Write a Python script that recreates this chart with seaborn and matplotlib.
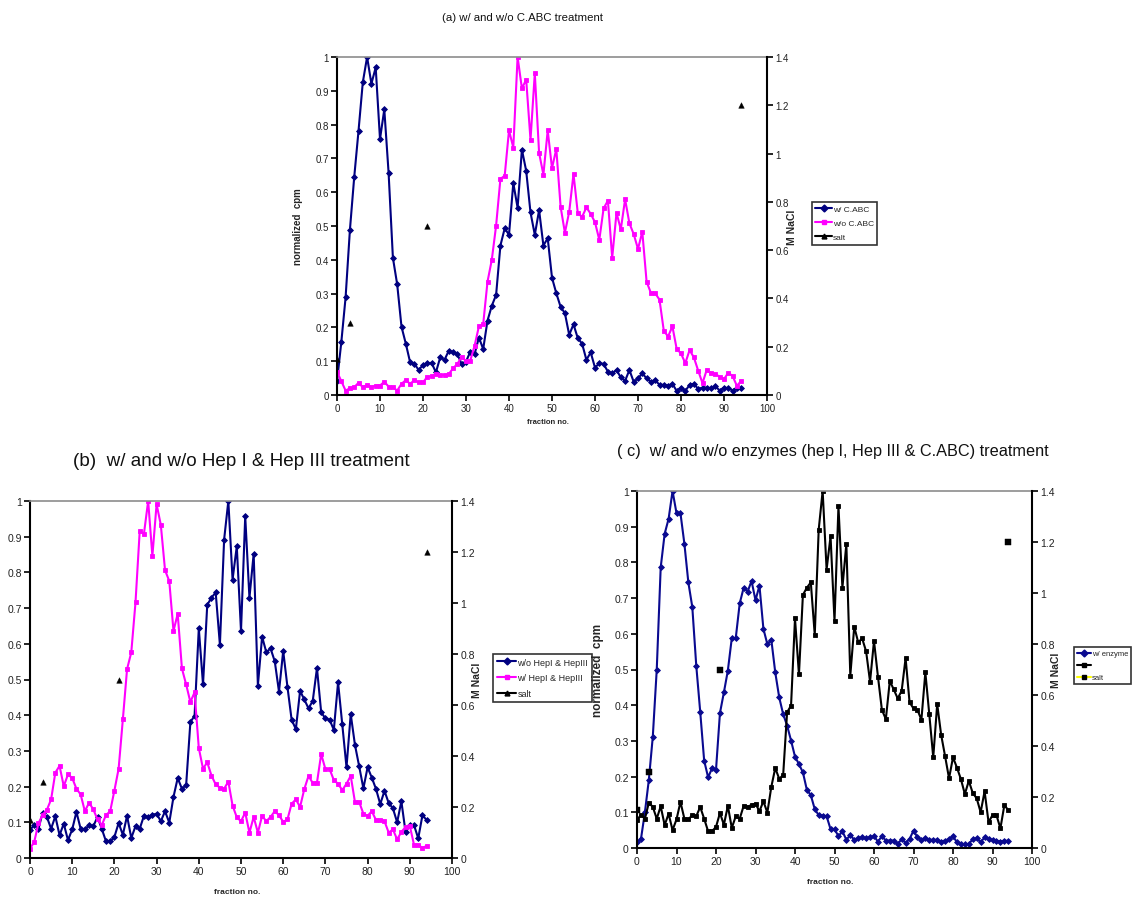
import numpy as np
import pandas as pd
import matplotlib
matplotlib.use("Agg")
import matplotlib.pyplot as plt
import seaborn as sns
from matplotlib.lines import Line2D

# ---------------- data ----------------
fractions = list(range(95))

a_with_cabc = [0.04, 0.156, 0.289, 0.488, 0.644, 0.781, 0.925, 1.0, 0.921, 0.969,
               0.757, 0.845, 0.657, 0.406, 0.327, 0.202, 0.152, 0.097, 0.092, 0.074,
               0.089, 0.094, 0.095, 0.067, 0.111, 0.104, 0.131, 0.126, 0.120, 0.092,
               0.099, 0.128, 0.121, 0.170, 0.136, 0.220, 0.264, 0.296, 0.442, 0.493,
               0.474, 0.627, 0.554, 0.726, 0.663, 0.540, 0.474, 0.547, 0.442, 0.464,
               0.347, 0.301, 0.261, 0.242, 0.178, 0.209, 0.168, 0.152, 0.104, 0.126,
               0.081, 0.094, 0.092, 0.069, 0.064, 0.074, 0.052, 0.042, 0.074, 0.039,
               0.049, 0.064, 0.049, 0.039, 0.044, 0.030, 0.030, 0.028, 0.033, 0.012,
               0.022, 0.012, 0.030, 0.033, 0.018, 0.022, 0.022, 0.020, 0.026, 0.013,
               0.022, 0.020, 0.013, 0.022, 0.020]

a_without_cabc = [0.069, 0.041, 0.013, 0.020, 0.023, 0.036, 0.023, 0.030, 0.023, 0.028,
                  0.028, 0.039, 0.025, 0.023, 0.013, 0.033, 0.044, 0.033, 0.044, 0.037,
                  0.037, 0.054, 0.055, 0.062, 0.059, 0.059, 0.062, 0.079, 0.092, 0.113,
                  0.100, 0.102, 0.146, 0.203, 0.210, 0.335, 0.400, 0.501, 0.639, 0.649,
                  0.783, 0.732, 1.0, 0.907, 0.933, 0.755, 0.952, 0.716, 0.652, 0.783,
                  0.671, 0.728, 0.557, 0.480, 0.542, 0.654, 0.538, 0.527, 0.555, 0.536,
                  0.511, 0.459, 0.552, 0.575, 0.406, 0.539, 0.490, 0.579, 0.508, 0.476,
                  0.432, 0.483, 0.335, 0.302, 0.301, 0.282, 0.190, 0.173, 0.203, 0.136,
                  0.123, 0.094, 0.133, 0.111, 0.072, 0.035, 0.075, 0.064, 0.062, 0.054,
                  0.047, 0.066, 0.056, 0.027, 0.042]

b_without_hep = [0.078, 0.093, 0.082, 0.127, 0.115, 0.082, 0.117, 0.064, 0.096, 0.050,
                 0.080, 0.129, 0.082, 0.080, 0.092, 0.089, 0.115, 0.082, 0.047, 0.047,
                 0.059, 0.098, 0.065, 0.118, 0.056, 0.089, 0.082, 0.118, 0.115, 0.121,
                 0.124, 0.103, 0.131, 0.099, 0.171, 0.224, 0.194, 0.204, 0.380, 0.399,
                 0.643, 0.486, 0.709, 0.729, 0.744, 0.597, 0.892, 1.0, 0.780, 0.873,
                 0.636, 0.957, 0.729, 0.852, 0.483, 0.620, 0.576, 0.587, 0.551, 0.466,
                 0.580, 0.480, 0.387, 0.361, 0.468, 0.444, 0.419, 0.440, 0.532, 0.408,
                 0.391, 0.387, 0.359, 0.492, 0.374, 0.254, 0.403, 0.317, 0.257, 0.195,
                 0.254, 0.225, 0.193, 0.151, 0.188, 0.154, 0.139, 0.100, 0.159, 0.072,
                 0.092, 0.092, 0.055, 0.120, 0.106]

b_with_hep = [0.026, 0.045, 0.097, 0.121, 0.135, 0.164, 0.239, 0.258, 0.201, 0.234,
              0.224, 0.194, 0.178, 0.131, 0.155, 0.136, 0.108, 0.092, 0.120, 0.131,
              0.189, 0.250, 0.388, 0.529, 0.576, 0.716, 0.916, 0.908, 1.0, 0.846,
              0.991, 0.933, 0.806, 0.776, 0.636, 0.684, 0.531, 0.486, 0.437, 0.464,
              0.308, 0.250, 0.268, 0.231, 0.206, 0.197, 0.194, 0.214, 0.147, 0.114,
              0.103, 0.127, 0.071, 0.115, 0.071, 0.118, 0.103, 0.115, 0.131, 0.120,
              0.101, 0.108, 0.152, 0.164, 0.143, 0.193, 0.230, 0.210, 0.211, 0.291,
              0.249, 0.249, 0.218, 0.208, 0.190, 0.208, 0.230, 0.157, 0.157, 0.124,
              0.118, 0.131, 0.106, 0.106, 0.103, 0.071, 0.080, 0.052, 0.073, 0.087,
              0.090, 0.037, 0.037, 0.028, 0.034]

c_with_enzyme = [0.016, 0.025, 0.100, 0.191, 0.312, 0.500, 0.786, 0.880, 0.922, 1.0,
                 0.938, 0.938, 0.852, 0.744, 0.675, 0.511, 0.382, 0.245, 0.198, 0.223,
                 0.219, 0.378, 0.436, 0.497, 0.588, 0.588, 0.685, 0.729, 0.718, 0.748,
                 0.694, 0.735, 0.614, 0.571, 0.584, 0.492, 0.422, 0.375, 0.343, 0.301,
                 0.256, 0.235, 0.212, 0.163, 0.148, 0.109, 0.092, 0.091, 0.089, 0.053,
                 0.053, 0.033, 0.047, 0.023, 0.036, 0.023, 0.027, 0.030, 0.027, 0.030,
                 0.033, 0.018, 0.033, 0.021, 0.021, 0.021, 0.011, 0.025, 0.014, 0.025,
                 0.049, 0.030, 0.023, 0.028, 0.023, 0.023, 0.023, 0.018, 0.021, 0.025,
                 0.033, 0.016, 0.011, 0.011, 0.011, 0.025, 0.027, 0.016, 0.030, 0.025,
                 0.023, 0.021, 0.018, 0.021, 0.019]

c_without_enzyme = b_without_hep

salt_fraction = [0, 3, 21, 94]
salt_nacl = [0.15, 0.3, 0.7, 1.2]

x_ticks = list(range(0, 101, 10))
y_ticks = [round(0.1 * i, 1) for i in range(11)]
y_tick_labels = ["0", "0.1", "0.2", "0.3", "0.4", "0.5", "0.6", "0.7", "0.8", "0.9", "1"]
y2_ticks = [0, 0.2, 0.4, 0.6, 0.8, 1.0, 1.2, 1.4]
y2_tick_labels = ["0", "0.2", "0.4", "0.6", "0.8", "1", "1.2", "1.4"]

# ---------------- style ----------------
sns.set_style("white")
plt.rcParams["font.family"] = ["Liberation Sans", "DejaVu Sans"]

NAVY = "#000080"
BLUE = "#0a0a90"
MAGENTA = "#ff00ff"
BLACK = "#000000"
YELLOW = "#ffff00"

fig = plt.figure(figsize=(11.43, 9.03), dpi=100)
W, H = 1143.0, 903.0


def rect(l, r, t, b):
    return [l / W, 1 - b / H, (r - l) / W, (b - t) / H]


def make_panel(box, series, salt_marker, tick_fs, ylabel, ylabel_x, xlabel_y,
               ylabel_fs, xlabel_fs, nacl_fs, legend_items, legend_pos, legend_fs,
               legend_spacing, handle_len):
    ax = fig.add_axes(box)
    for values, color, marker, ms in series:
        df = pd.DataFrame({"fraction": fractions, "cpm": values})
        sns.lineplot(data=df, x="fraction", y="cpm", color=color, marker=marker,
                     markersize=ms, markeredgecolor=color, markeredgewidth=0.6,
                     linewidth=1.5, ax=ax, legend=False)
    ax.set_xlim(0, 100)
    ax.set_ylim(0, 1)
    ax.set_xticks(x_ticks)
    ax.set_xticklabels([str(t) for t in x_ticks], fontsize=tick_fs)
    ax.set_yticks(y_ticks)
    ax.set_yticklabels(y_tick_labels, fontsize=tick_fs)
    ax.tick_params(axis="both", direction="out", length=4, width=1.2, pad=2,
                   left=True, bottom=True, colors=BLACK, labelcolor="#222222")
    for s in ["left", "bottom"]:
        ax.spines[s].set_color(BLACK)
        ax.spines[s].set_linewidth(1.5)
    ax.spines["top"].set_color("#8c8c8c")
    ax.spines["top"].set_linewidth(1.2)
    ax.spines["right"].set_visible(False)
    ax.set_xlabel("fraction no.", fontsize=xlabel_fs, fontweight="bold")
    ax.xaxis.set_label_coords(0.49, xlabel_y)
    if ylabel:
        ax.set_ylabel("normalized  cpm", fontsize=ylabel_fs, fontweight="bold")
        ax.yaxis.set_label_coords(ylabel_x, 0.5)
    else:
        ax.set_ylabel("")

    ax2 = ax.twinx()
    sdf = pd.DataFrame({"fraction": salt_fraction, "nacl": salt_nacl})
    sns.scatterplot(data=sdf, x="fraction", y="nacl", marker=salt_marker,
                    color=BLACK, edgecolor=BLACK, s=16, ax=ax2, legend=False,
                    zorder=5)
    ax2.set_xlim(0, 100)
    ax2.set_ylim(0, 1.4)
    ax2.set_yticks(y2_ticks)
    ax2.set_yticklabels(y2_tick_labels, fontsize=tick_fs)
    ax2.tick_params(axis="y", direction="out", length=4, width=1.2, pad=2,
                    right=True, colors=BLACK, labelcolor="#222222")
    for s in ["left", "bottom", "top"]:
        ax2.spines[s].set_visible(False)
    ax2.spines["right"].set_color(BLACK)
    ax2.spines["right"].set_linewidth(1.5)
    ax2.set_ylabel("M NaCl", fontsize=nacl_fs, fontweight="bold", rotation=90)
    ax2.yaxis.set_label_coords(1.047, 0.5)

    handles = []
    labels = []
    for lab, lcolor, mk, mcolor in legend_items:
        handles.append(Line2D([0], [0], color=lcolor, marker=mk, markersize=3.5,
                              markerfacecolor=mcolor, markeredgecolor=mcolor,
                              linewidth=1.5))
        labels.append(lab)
    leg = ax.legend(handles, labels, loc="upper left", bbox_to_anchor=legend_pos,
                    bbox_transform=fig.transFigure, fontsize=legend_fs,
                    frameon=True, fancybox=False, edgecolor=BLACK,
                    handlelength=handle_len, handletextpad=0.1, borderpad=0.4,
                    labelspacing=legend_spacing, borderaxespad=0)
    leg.get_frame().set_linewidth(1.2)
    return ax, ax2


# Panel (a)
make_panel(rect(337, 767, 58, 396),
           [(a_with_cabc, NAVY, "D", 3.0), (a_without_cabc, MAGENTA, "s", 3.3)],
           "^", 7, True, -0.08, -0.068, 7, 5.5, 7.5,
           [("w/ C.ABC", NAVY, "D", NAVY), ("w/o C.ABC", MAGENTA, "s", MAGENTA),
            ("salt", BLACK, "^", BLACK)],
           (812 / W, 1 - 203 / H), 6, 0.75, 2.0)

# Panel (b)
make_panel(rect(30, 452, 502, 859),
           [(b_without_hep, NAVY, "D", 3.0), (b_with_hep, MAGENTA, "s", 3.3)],
           "^", 7.5, False, -0.08, -0.085, 7, 6, 7.5,
           [("w/o HepI & HepIII", NAVY, "D", NAVY), ("w/ HepI & HepIII", MAGENTA, "s", MAGENTA),
            ("salt", BLACK, "^", BLACK)],
           (493 / W, 1 - 655 / H), 6.5, 0.75, 2.2)

# Panel (c)
make_panel(rect(637, 1032, 492, 849),
           [(c_with_enzyme, BLUE, "D", 3.0), (c_without_enzyme, BLACK, "s", 3.3)],
           "s", 7.5, True, -0.083, -0.085, 8.5, 6, 7.5,
           [("w/ enzyme", BLUE, "D", BLUE), ("", BLACK, "s", BLACK),
            ("salt", YELLOW, "s", BLACK)],
           (1074 / W, 1 - 648 / H), 5.5, 0.6, 1.8)

fig.text(523 / W, 1 - 18 / H, "(a) w/ and w/o C.ABC treatment", ha="center", va="center",
         fontsize=8.2, color="#111111")
fig.text(241 / W, 1 - 462 / H, "(b)  w/ and w/o Hep I & Hep III treatment", ha="center",
         va="center", fontsize=13.6, color="#111111")
fig.text(833 / W, 1 - 452 / H, "( c)  w/ and w/o enzymes (hep I, Hep III & C.ABC) treatment",
         ha="center", va="center", fontsize=11.7, color="#111111")

fig.savefig("out.png", dpi=100, facecolor="white")
